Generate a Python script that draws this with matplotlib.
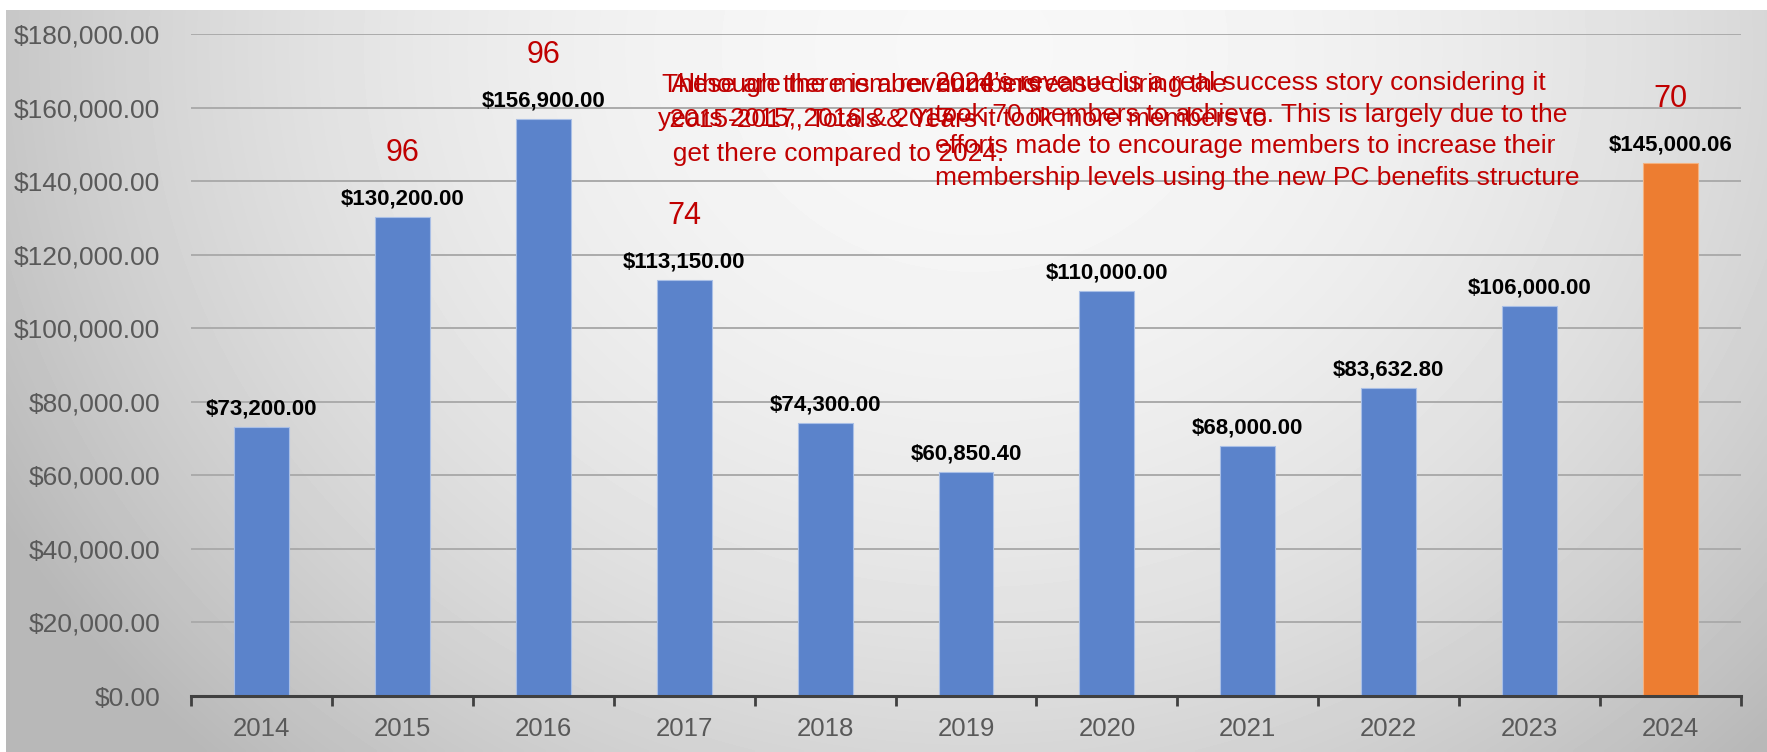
import numpy as np
import matplotlib
matplotlib.use("Agg")
import matplotlib.pyplot as plt
from matplotlib.ticker import FuncFormatter, MultipleLocator

plt.rcParams["font.family"] = ["Liberation Sans", "DejaVu Sans"]

years = ["2014", "2015", "2016", "2017", "2018", "2019",
         "2020", "2021", "2022", "2023", "2024"]
revenue = [73200.00, 130200.00, 156900.00, 113150.00, 74300.00, 60850.40,
           110000.00, 68000.00, 83632.80, 106000.00, 145000.06]
members = [None, 96, 96, 74, None, None, None, None, None, None, 70]

note_although = ("  Although there is a revenue increase during the\n"
                 "years 2015, 2016 & 2017 \u2013 it took more members to\n"
                 "  get there compared to 2024.")
note_these = ("These are the member numbers\n"
              " 2015-2017, Totals & Years")
note_2024 = ("2024\u2019s revenue is a real success story considering it\n"
             "took 70 members to achieve. This is largely due to the\n"
             "efforts made to encourage members to increase their\n"
             "membership levels using the new PC benefits structure")

BLUE = "#5b83cb"
ORANGE = "#ed7d31"
RED = "#c00000"
GREY_TXT = "#595959"

W, H = 1767, 752
fig = plt.figure(figsize=(W / 100, H / 100), dpi=100)

# grey radial backdrop behind the chart
bg = fig.add_axes([6 / W, 0, 1 - 6 / W, 1 - 10 / H], zorder=-10)
gx, gy = np.meshgrid(np.linspace(0, 1, 400), np.linspace(0, 1, 200))
r2 = ((gx - 0.55) / 0.62) ** 2 + ((gy - 0.05) / 1.3) ** 2
shade = np.clip(0.97 - 0.24 * r2, 0.72, 0.97)
bg.imshow(shade, cmap="gray", vmin=0, vmax=1, aspect="auto",
          extent=[0, 1, 1, 0], interpolation="bilinear")
bg.axis("off")

ax = fig.add_axes([191 / W, 1 - 696 / H, (1741 - 191) / W, (696 - 34) / H])
ax.patch.set_alpha(0)

x = np.arange(len(years))
colors = [BLUE] * (len(years) - 1) + [ORANGE]
ax.bar(x, revenue, width=0.39, color=colors, edgecolor="#a9bfe6",
       linewidth=0.8, zorder=3)
ax.patches[-1].set_edgecolor("#f5b27f")

for xi, val, m in zip(x, revenue, members):
    ax.annotate(f"${val:,.2f}", (xi, val), xytext=(0, 13),
                textcoords="offset points", ha="center", va="center",
                fontsize=16, fontweight="bold", color="black", zorder=5)
    if m is not None:
        ax.annotate(str(m), (xi, val), xytext=(0, 46),
                    textcoords="offset points", ha="center", va="center",
                    fontsize=22, color=RED, zorder=5)

ax.set_xlim(-0.5, len(years) - 0.5)
ax.set_ylim(0, 180000)
ax.yaxis.set_major_locator(MultipleLocator(20000))
ax.yaxis.set_major_formatter(FuncFormatter(lambda v, p: f"${v:,.2f}"))
ax.grid(axis="y", color="#ababab", linewidth=1.4, zorder=0)

ax.set_xticks(x)
ax.set_xticklabels(years)
ax.set_xticks(np.arange(-0.5, len(years)), minor=True)
ax.tick_params(axis="x", which="major", length=0, pad=15,
               labelsize=18.5, labelcolor=GREY_TXT)
ax.tick_params(axis="x", which="minor", length=7, width=2, color="#404040")
ax.tick_params(axis="y", length=0, pad=22, labelsize=19, labelcolor=GREY_TXT)

for side in ["top", "right", "left"]:
    ax.spines[side].set_visible(False)
ax.spines["bottom"].set_color("#404040")
ax.spines["bottom"].set_linewidth(2.2)
ax.spines["bottom"].set_zorder(4)

# overlapping red notes above the bars
fig.text(658 / W, 1 - 73 / H, note_although, ha="left", va="top",
         fontsize=19, color=RED, linespacing=1.55)
fig.text(662 / W, 1 - 73 / H, note_these, ha="left", va="top",
         fontsize=19, color=RED, linespacing=1.55)
fig.text(935 / W, 1 - 71 / H, note_2024, ha="left", va="top",
         fontsize=19, color=RED, linespacing=1.4)

fig.savefig("out.png", dpi=100)
